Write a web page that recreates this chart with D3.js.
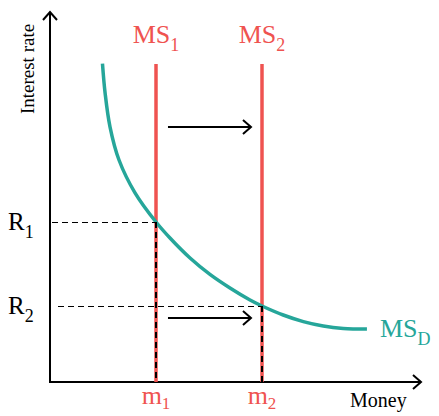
<!DOCTYPE html>
<html><head><meta charset="utf-8">
<script src="https://cdn.jsdelivr.net/npm/d3@7"></script>
<style>body{margin:0;background:#fff}svg{display:block}</style>
</head><body>
<svg id="c" width="439" height="416"></svg>
<script>
// data
const demandMoney = [0.495, 0.52, 0.566, 0.651, 0.802, 1.0, 1.132, 1.321, 1.509, 1.698, 1.887, 2.0, 2.2, 2.39, 2.578, 2.767, 2.99];
const demandRate  = [7.96, 7.22, 6.38, 5.55, 4.73, 4.0, 3.6, 3.1, 2.69, 2.35, 2.05, 1.9, 1.675, 1.51, 1.4, 1.34, 1.325];
const supplyMoney = [1, 2];
const supplyLabels = ["1", "2"];
const eqRates = [4.0, 1.9];
const rateLabels = ["1", "2"];
const supplyTop = 7.95;
const shiftArrowRates = [6.375, 1.6];
const shiftFrom = 1.113, shiftTo = 1.896;

const red = "#ef5350", teal = "#26a69a";
const font = "'Liberation Serif', 'DejaVu Serif', serif";
const svg = d3.select("#c");
const x = d3.scaleLinear().domain([0, 3.5]).range([50, 421]);
const y = d3.scaleLinear().domain([0, 9.25]).range([382, 12]);

const defs = svg.append("defs");
defs.append("marker").attr("id", "ah").attr("markerUnits", "userSpaceOnUse")
  .attr("viewBox", "-12 -10 14 20").attr("refX", 0).attr("refY", 0)
  .attr("markerWidth", 14).attr("markerHeight", 20).attr("orient", "auto")
  .append("path").attr("d", "M-8,-7 L0,0 L-8,7").attr("fill", "none")
  .attr("stroke", "#000").attr("stroke-width", 2).attr("stroke-linejoin", "miter");

// axes
svg.append("path").attr("d", `M${x(0)},${y(0)} L${x(0)},${y(9.25)}`)
  .attr("stroke", "#000").attr("stroke-width", 2).attr("fill", "none").attr("marker-end", "url(#ah)");
svg.append("path").attr("d", `M${x(0)-1},${y(0)} L${x(3.5)},${y(0)}`)
  .attr("stroke", "#000").attr("stroke-width", 2).attr("fill", "none").attr("marker-end", "url(#ah)");

// supply lines
svg.selectAll("line.ms").data(supplyMoney).join("line").attr("class", "ms")
  .attr("x1", d => x(d)).attr("x2", d => x(d)).attr("y1", y(supplyTop)).attr("y2", y(0))
  .attr("stroke", red).attr("stroke-width", 3.5);

// demand curve
const pts = demandMoney.map((m, i) => [x(m), y(demandRate[i])]);
svg.append("path").attr("d", d3.line().curve(d3.curveCatmullRom.alpha(0.5))(pts))
  .attr("fill", "none").attr("stroke", teal).attr("stroke-width", 3.5);

// dashed guides
const hStart = [52, 58];
eqRates.forEach((r, i) => {
  svg.append("line").attr("x1", hStart[i]).attr("x2", x(supplyMoney[i])).attr("y1", y(r)).attr("y2", y(r))
    .attr("stroke", "#000").attr("stroke-width", 1).attr("stroke-dasharray", "6,4")
    .attr("shape-rendering", "crispEdges");
  svg.append("line").attr("x1", x(supplyMoney[i])).attr("x2", x(supplyMoney[i])).attr("y1", y(r)).attr("y2", y(0))
    .attr("stroke", "#000").attr("stroke-width", 1.2).attr("stroke-dasharray", "6,4")
    .attr("shape-rendering", "crispEdges");
});

// shift arrows
shiftArrowRates.forEach(r => {
  svg.append("path").attr("d", `M${x(shiftFrom)},${y(r)} L${x(shiftTo)},${y(r)}`)
    .attr("stroke", "#000").attr("stroke-width", 2).attr("fill", "none").attr("marker-end", "url(#ah)");
});

function sub(sel, main, s, subSize, dy) {
  sel.append("tspan").text(main);
  sel.append("tspan").attr("font-size", subSize).attr("dy", dy).text(s);
}

// MS and m labels
supplyMoney.forEach((m, i) => {
  const t = svg.append("text").attr("x", x(m)).attr("y", 43).attr("text-anchor", "middle")
    .attr("font-family", font).attr("font-size", 26).attr("fill", red);
  sub(t, "MS", supplyLabels[i], 18, 8);
  const tm = svg.append("text").attr("x", x(m)).attr("y", 404).attr("text-anchor", "middle")
    .attr("font-family", font).attr("font-size", 26).attr("fill", red);
  sub(tm, "m", supplyLabels[i], 17, 5);
});

// R labels
eqRates.forEach((r, i) => {
  const t = svg.append("text").attr("x", 8).attr("y", y(r) + 8).attr("font-family", font)
    .attr("font-size", 25).attr("fill", "#000");
  sub(t, "R", rateLabels[i], 18, 8);
});

// MS_D label
const td = svg.append("text").attr("x", 380).attr("y", 337).attr("font-family", font)
  .attr("font-size", 26).attr("fill", teal);
sub(td, "MS", "D", 18, 8);

// axis titles
svg.append("text").attr("x", 350).attr("y", 407).attr("font-family", font).attr("font-size", 20)
  .attr("fill", "#000").text("Money");
svg.append("text").attr("transform", "translate(34,69) rotate(-90)").attr("text-anchor", "middle")
  .attr("font-family", font).attr("font-size", 19).attr("fill", "#000").text("Interest rate");
</script>
</body></html>
